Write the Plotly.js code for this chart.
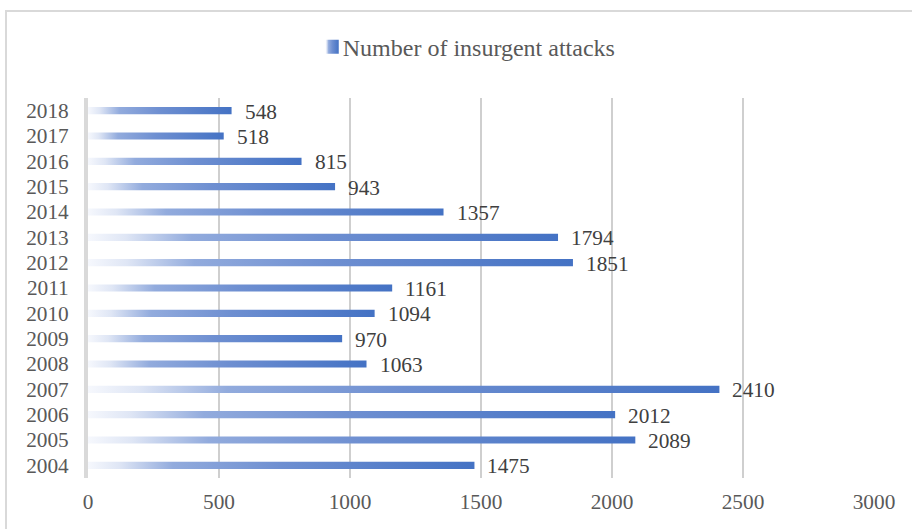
<!DOCTYPE html>
<html>
<head>
<meta charset="utf-8">
<script src="https://cdn.plot.ly/plotly-3.0.1.min.js"></script>
<style>
  html, body { margin: 0; padding: 0; background: #ffffff; overflow: hidden; }
  #frame { position: absolute; left: 5px; top: 10px; width: 1000px; height: 600px;
           border: 2px solid #d9d9d9; box-sizing: border-box; }
  #chart { position: absolute; left: 0; top: 0; width: 912px; height: 529px; }
</style>
</head>
<body>
<div id="frame"></div>
<div id="chart"></div>
<script>
const years = ['2004','2005','2006','2007','2008','2009','2010','2011','2012','2013','2014','2015','2016','2017','2018'];
const attacks = [1475, 2089, 2012, 2410, 1063, 970, 1094, 1161, 1851, 1794, 1357, 943, 815, 518, 548];
const seriesName = 'Number of insurgent attacks';
const xTicks = [0, 500, 1000, 1500, 2000, 2500, 3000];

const fontFam = '"Times New Roman", "Liberation Serif", serif';

const trace = {
  type: 'bar',
  orientation: 'h',
  name: seriesName,
  x: attacks,
  y: years,
  marker: { color: '#4472C4', line: { width: 0 } },
  hoverinfo: 'none',
  showlegend: true
};

// category axes: annotation positions use the category index
const annotations = years.map((yr, i) => ({
  x: attacks[i], y: i, xref: 'x', yref: 'y',
  text: String(attacks[i]), showarrow: false,
  xanchor: 'left', yanchor: 'middle', xshift: 11, yshift: -1,
  font: { family: fontFam, size: 21.3, color: '#404040' }
}));

const layout = {
  width: 912, height: 529,
  margin: { l: 88, r: 38, t: 98, b: 51, pad: 0 },
  paper_bgcolor: 'rgba(0,0,0,0)',
  plot_bgcolor: 'rgba(0,0,0,0)',
  font: { family: fontFam, size: 21.3, color: '#595959' },
  bargap: 0.72,
  showlegend: true,
  legend: {
    orientation: 'h', x: 0.4755, xanchor: 'center', y: 1.134, yanchor: 'middle',
    font: { family: fontFam, size: 24, color: '#595959' },
    bgcolor: 'rgba(0,0,0,0)'
  },
  xaxis: {
    range: [0, 3000], tickmode: 'array', tickvals: xTicks, ticktext: xTicks.map(String),
    showgrid: true, gridcolor: '#cfcfcf', gridwidth: 1.3,
    zeroline: false, showline: false, ticks: '',
    tickfont: { family: fontFam, size: 21.3, color: '#595959' },
    ticklabelstandoff: 9, fixedrange: true
  },
  yaxis: {
    type: 'category', categoryorder: 'array', categoryarray: years,
    range: [-0.5, years.length - 0.5], autorange: false,
    tickmode: 'array', tickvals: years, ticktext: years,
    showgrid: false, zeroline: false,
    showline: true, linecolor: '#d9d9d9', linewidth: 4, ticks: '',
    tickfont: { family: fontFam, size: 21.3, color: '#595959' },
    ticklabelstandoff: 11, fixedrange: true
  },
  annotations: annotations
};

function applyGradient() {
  const svg = document.querySelector('#chart .main-svg');
  if (!svg) return;
  let defs = svg.querySelector('defs');
  const NS = 'http://www.w3.org/2000/svg';
  if (!defs) { defs = document.createElementNS(NS, 'defs'); svg.insertBefore(defs, svg.firstChild); }
  if (!document.getElementById('barGrad')) {
    const g = document.createElementNS(NS, 'linearGradient');
    g.setAttribute('id', 'barGrad');
    g.setAttribute('x1', '0'); g.setAttribute('y1', '0');
    g.setAttribute('x2', '1'); g.setAttribute('y2', '0');
    const stops = [[0, '#f6f8fd'], [0.08, '#dfe6f5'], [0.22, '#92abdd'], [0.5, '#6e8fd1'], [1, '#4472c4']];
    stops.forEach(([o, c]) => {
      const s = document.createElementNS(NS, 'stop');
      s.setAttribute('offset', o);
      s.setAttribute('stop-color', c);
      g.appendChild(s);
    });
    defs.appendChild(g);
  }
  document.querySelectorAll('#chart .barlayer .point path').forEach(p => {
    p.style.fill = 'url(#barGrad)';
  });
  document.querySelectorAll('#chart .legend .legendpoints').forEach(gp => {
    gp.setAttribute('transform', 'translate(9,0)');
    gp.querySelectorAll('path').forEach(p => {
      p.setAttribute('d', 'M7,7H-6V-7H7Z');
      p.style.fill = 'url(#barGrad)';
    });
  });
}

Plotly.newPlot('chart', [trace], layout, { displayModeBar: false, staticPlot: true }).then(gd => {
  applyGradient();
  gd.on('plotly_afterplot', applyGradient);
});
</script>
</body>
</html>
